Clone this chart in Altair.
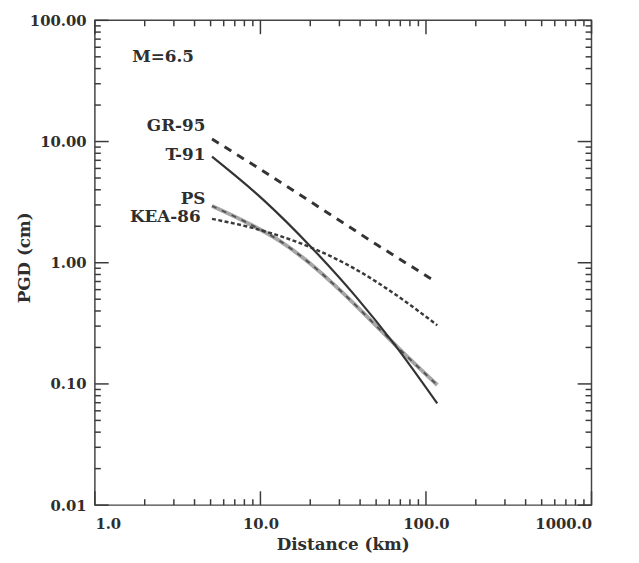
import altair as alt
import pandas as pd

# ---- data (distance km, PGD cm) ----
gr95_d = [5.1, 10, 20, 50, 116]
gr95_v = [10.5, 5.9, 3.2, 1.42, 0.69]

t91_d = [5.1, 10.5, 20, 37.5, 65, 117]
t91_v = [7.5, 3.27, 1.37, 0.53, 0.209, 0.069]

kea_d = [5.1, 8.3, 16.5, 25.9, 41.3, 65, 117]
kea_v = [2.3, 1.99, 1.49, 1.15, 0.82, 0.55, 0.305]

ps_d = [5.1, 8.3, 13.0, 19.7, 30, 51.5, 80, 117]
ps_v = [2.94, 2.14, 1.52, 1.0, 0.6, 0.29, 0.16, 0.098]

label_text = ["M=6.5", "GR-95", "T-91", "PS", "KEA-86"]
label_d = [2.58, 4.65, 4.65, 4.65, 4.35]
label_v = [50, 13.4, 7.8, 3.35, 2.39]
label_align = ["center", "right", "right", "right", "right"]

x_major = [1, 10, 100, 1000]
y_major = [0.01, 0.1, 1, 10, 100]
x_minor = [2, 3, 4, 5, 6, 7, 8, 9, 20, 30, 40, 50, 60, 70, 80, 90,
           200, 300, 400, 500, 600, 700, 800, 900]
y_minor = [0.02, 0.03, 0.04, 0.05, 0.06, 0.07, 0.08, 0.09,
           0.2, 0.3, 0.4, 0.5, 0.6, 0.7, 0.8, 0.9,
           2, 3, 4, 5, 6, 7, 8, 9, 20, 30, 40, 50, 60, 70, 80, 90]

# axis domain limits (frame edges)
x_lo, x_hi = 1, 1000
y_lo, y_hi = 0.01, 100

W, H = 503, 491
FONT = "DejaVu Serif"
INK = "#2e2e2e"
TICK_COLOR = "#3a3a3a"
MAJOR_LEN, MINOR_LEN = 14, 6
DEC_PER_PX_X = 3 / W   # decades per pixel on the x axis
DEC_PER_PX_Y = 4 / H   # decades per pixel on the y axis

xscale = alt.Scale(type="log", domain=[x_lo, x_hi])
yscale = alt.Scale(type="log", domain=[y_lo, y_hi])
xaxis = alt.Axis(values=x_major, format=".1f", title="Distance (km)",
                 ticks=False, tickSize=0, domain=False, grid=False,
                 labelPadding=12, titleX=251, titleY=40, titleBaseline="middle")
yaxis = alt.Axis(values=y_major, format=".2f", title="PGD (cm)",
                 ticks=False, tickSize=0, domain=False, grid=False,
                 labelPadding=9, titleX=-71, titleY=240, titleBaseline="middle",
                 titleAlign="center", titleAngle=270)


def X(f="d"):
    return alt.X(f"{f}:Q", scale=xscale, axis=xaxis)


def Y(f="v"):
    return alt.Y(f"{f}:Q", scale=yscale, axis=yaxis)


def df(d, v):
    return pd.DataFrame({"d": d, "v": v})


gr = alt.Chart(df(gr95_d, gr95_v)).mark_line(
    color="#333333", strokeWidth=3, strokeDash=[8, 7]).encode(x=X(), y=Y())
t91 = alt.Chart(df(t91_d, t91_v)).mark_line(
    color="#333333", strokeWidth=2.2, interpolate="monotone").encode(x=X(), y=Y())
kea = alt.Chart(df(kea_d, kea_v)).mark_line(
    color="#3a3a3a", strokeWidth=2.5, strokeDash=[4, 2.5], interpolate="monotone").encode(x=X(), y=Y())
ps_gray = alt.Chart(df(ps_d, ps_v)).mark_line(
    color="#a6a6a6", strokeWidth=4, interpolate="monotone").encode(x=X(), y=Y())
ps_dash = alt.Chart(df(ps_d, ps_v)).mark_line(
    color="#505050", strokeWidth=1.8, strokeDash=[5, 6], interpolate="monotone").encode(x=X(), y=Y())

lab_df = pd.DataFrame({"t": label_text, "d": label_d, "v": label_v, "a": label_align})
labels = alt.Chart(lab_df).transform_filter("datum.a == 'right'").mark_text(
    align="right", baseline="middle", font=FONT, fontWeight="bold",
    fontSize=17, color=INK).encode(x=X(), y=Y(), text="t:N")
mlabel = alt.Chart(lab_df).transform_filter("datum.a == 'center'").mark_text(
    align="center", baseline="middle", font=FONT, fontWeight="bold",
    fontSize=17, color=INK).encode(x=X(), y=Y(), text="t:N")

# ---- inward tick marks, drawn as short two-point line segments ----
rows = []


def add_xticks(vals, edge, length, sign, tag):
    end = edge * 10 ** (sign * length * DEC_PER_PX_Y)
    for i, val in enumerate(vals):
        rows.append({"id": f"{tag}{i}", "o": 0, "d": val, "v": edge})
        rows.append({"id": f"{tag}{i}", "o": 1, "d": val, "v": end})


def add_yticks(vals, edge, length, sign, tag):
    end = edge * 10 ** (sign * length * DEC_PER_PX_X)
    for i, val in enumerate(vals):
        rows.append({"id": f"{tag}{i}", "o": 0, "d": edge, "v": val})
        rows.append({"id": f"{tag}{i}", "o": 1, "d": end, "v": val})


add_xticks(x_major, y_lo, MAJOR_LEN, 1, "bM")
add_xticks(x_minor, y_lo, MINOR_LEN, 1, "bm")
add_xticks(x_major, y_hi, MAJOR_LEN, -1, "tM")
add_xticks(x_minor, y_hi, MINOR_LEN, -1, "tm")
add_yticks(y_major, x_lo, MAJOR_LEN, 1, "lM")
add_yticks(y_minor, x_lo, MINOR_LEN, 1, "lm")
add_yticks(y_major, x_hi, MAJOR_LEN, -1, "rM")
add_yticks(y_minor, x_hi, MINOR_LEN, -1, "rm")

ticks = alt.Chart(pd.DataFrame(rows)).mark_line(
    color=TICK_COLOR, strokeWidth=1.5).encode(
    x=X(), y=Y(), detail="id:N", order="o:Q")

chart = alt.layer(
    ps_gray, ps_dash, kea, gr, t91, labels, mlabel, ticks
).properties(
    width=W, height=H,
    autosize=alt.AutoSizeParams(type="none"),
    padding={"left": 88, "top": 9, "right": 40, "bottom": 46},
    background="white",
).configure_view(
    stroke="#444444", strokeWidth=1.5
).configure_axis(
    labelFont=FONT, labelFontSize=15, labelFontWeight="bold", labelColor=INK,
    titleFont=FONT, titleFontSize=17, titleFontWeight="bold", titleColor=INK,
)

chart.save("out.html", embed_options={"renderer": "svg", "actions": False})
